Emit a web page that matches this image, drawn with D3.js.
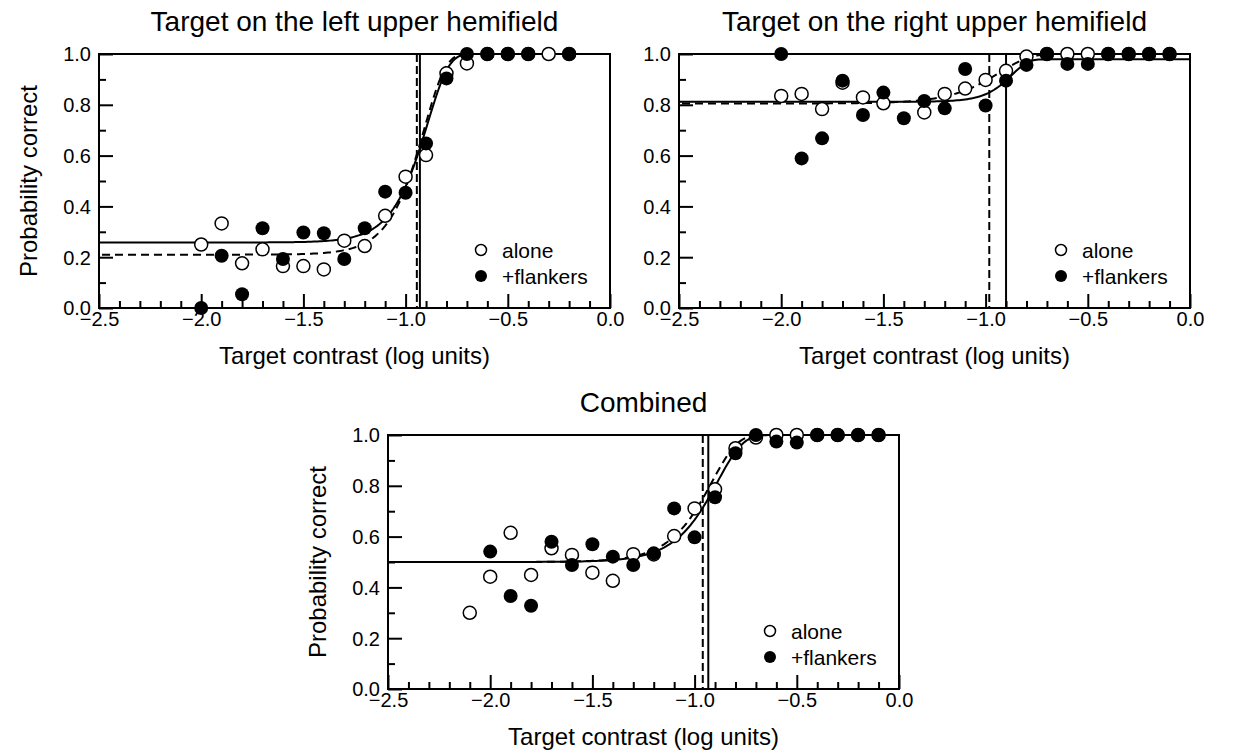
<!DOCTYPE html>
<html lang="en">
  <head>
    <meta charset="utf-8"/>
    <title>Probability correct vs target contrast</title>
    <script src="https://cdn.jsdelivr.net/npm/d3@7"></script>
    <style>
      body { margin: 0; background: #fff; }
      svg { display: block; font-family: "Liberation Sans", Arial, sans-serif; }
    </style>
  </head>
  <body>
    <div id="chart"></div>
    <script type="text/javascript">

      // data: [log contrast, probability correct]
      var leftAlone = [[-2.0,0.25],[-1.9,0.333],[-1.8,0.176],[-1.7,0.231],[-1.6,0.165],[-1.5,0.165],[-1.4,0.152],
        [-1.3,0.265],[-1.2,0.244],[-1.1,0.363],[-1.0,0.517],[-0.9,0.602],[-0.8,0.924],[-0.7,0.963],
        [-0.6,1],[-0.5,1],[-0.4,1],[-0.3,1],[-0.2,1]];
      var leftFlankers = [[-2.0,0.0],[-1.9,0.206],[-1.8,0.054],[-1.7,0.314],[-1.6,0.193],[-1.5,0.297],[-1.4,0.294],
        [-1.3,0.193],[-1.2,0.314],[-1.1,0.458],[-1.0,0.454],[-0.9,0.648],[-0.8,0.904],[-0.7,1],
        [-0.6,1],[-0.5,1],[-0.4,1],[-0.2,1]];

      var rightAlone = [[-2.0,0.835],[-1.9,0.843],[-1.8,0.783],[-1.7,0.887],[-1.6,0.829],[-1.5,0.806],[-1.3,0.77],
        [-1.2,0.843],[-1.1,0.864],[-1.0,0.898],[-0.9,0.934],[-0.8,0.99],[-0.7,1],[-0.6,1],[-0.5,1],
        [-0.4,1],[-0.3,1],[-0.2,1],[-0.1,1]];
      var rightFlankers = [[-2.0,1.0],[-1.9,0.589],[-1.8,0.668],[-1.7,0.895],[-1.6,0.76],[-1.5,0.848],[-1.4,0.747],
        [-1.3,0.815],[-1.2,0.786],[-1.1,0.941],[-1.0,0.797],[-0.9,0.895],[-0.8,0.957],[-0.7,1],
        [-0.6,0.961],[-0.5,0.961],[-0.4,1],[-0.3,1],[-0.2,1],[-0.1,1]];

      var combinedAlone = [[-2.1,0.3],[-2.0,0.442],[-1.9,0.615],[-1.8,0.449],[-1.7,0.554],[-1.6,0.528],[-1.5,0.458],
        [-1.4,0.426],[-1.3,0.531],[-1.2,0.53],[-1.1,0.602],[-1.0,0.711],[-0.9,0.786],[-0.8,0.948],
        [-0.7,0.99],[-0.6,1],[-0.5,1],[-0.4,1],[-0.3,1],[-0.2,1],[-0.1,1]];
      var combinedFlankers = [[-2.0,0.541],[-1.9,0.366],[-1.8,0.328],[-1.7,0.58],[-1.6,0.488],[-1.5,0.57],[-1.4,0.521],
        [-1.3,0.488],[-1.2,0.534],[-1.1,0.711],[-1.0,0.597],[-0.9,0.755],[-0.8,0.928],[-0.7,1],
        [-0.6,0.974],[-0.5,0.97],[-0.4,1],[-0.3,1],[-0.2,1],[-0.1,1]];

      // fitted psychometric functions: [guess rate, upper asymptote, threshold, slope]
      var leftFitSolid = [0.258, 1.0, -0.93, 4.2];
      var leftFitDashed = [0.21, 1.0, -0.945, 4.2];
      var rightFitSolid = [0.812, 0.979, -0.9, 5.5];
      var rightFitDashed = [0.805, 1.0, -0.982, 3.0];
      var combinedFitSolid = [0.5, 1.0, -0.933, 3.5];
      var combinedFitDashed = [0.5, 1.0, -0.96, 3.5];

      var xDomain = [-2.5, 0];
      var xMajorTicks = [-2.5, -2.0, -1.5, -1.0, -0.5, 0.0];
      var yMajorTicks = [0.0, 0.2, 0.4, 0.6, 0.8, 1.0];
      var legendLabels = ["alone", "+flankers"];

      var titles = ["Target on the left upper hemifield", "Target on the right upper hemifield", "Combined"];
      var xLabel = "Target contrast (log units)";
      var yLabel = "Probability correct";

      var w = 1234, h = 755;
      var plotW = 511, plotH = 254;

      var svg = d3.select("#chart")
        .append("svg")
        .attr("width", w)
        .attr("height", h)
      ;

      // Weibull in log units, F = 0.5 at the threshold
      function psychometric(p) {
        return function(x) {
          var f = 1 - Math.exp(-Math.LN2 * Math.pow(10, p[3] * (x - p[2])));
          return p[0] + (p[1] - p[0]) * f;
        };
      }

      function drawPanel(left, top, title, alone, flankers, fitSolid, fitDashed, showYLabel) {
        var x = d3.scaleLinear().domain(xDomain).range([0, plotW]);
        var y = d3.scaleLinear().domain([0, 1]).range([plotH, 0]);
        var g = svg.append("g").attr("transform", "translate(" + left + "," + top + ")");

        // minor ticks
        var xMinor = d3.range(-24, 0).map(function(i) { return i / 10; })
          .filter(function(v) { return Math.abs(v * 2 - Math.round(v * 2)) > 1e-6; });
        var yMinor = [0.1, 0.3, 0.5, 0.7, 0.9];
        g.append("g")
          .attr("transform", "translate(0," + plotH + ")")
          .call(d3.axisBottom(x).tickValues(xMinor).tickSize(-7).tickFormat(""));
        g.append("g")
          .call(d3.axisLeft(y).tickValues(yMinor).tickSize(-7).tickFormat(""));

        // major ticks with labels
        var xa = g.append("g")
          .attr("transform", "translate(0," + plotH + ")")
          .call(d3.axisBottom(x).tickValues(xMajorTicks).tickSize(-14).tickPadding(4).tickFormat(d3.format(".1f")));
        var ya = g.append("g")
          .call(d3.axisLeft(y).tickValues(yMajorTicks).tickSize(-14).tickPadding(8).tickFormat(d3.format(".1f")));

        g.selectAll(".domain").remove();
        g.selectAll(".tick line").attr("stroke", "#000").attr("stroke-width", 2);
        [xa, ya].forEach(function(a) {
          a.attr("font-family", null).attr("font-size", 20);
          a.selectAll("text").attr("fill", "#000");
        });
        ya.selectAll("text").attr("dy", "0.34em");

        // threshold lines
        g.append("line")
          .attr("x1", x(fitDashed[2])).attr("x2", x(fitDashed[2]))
          .attr("y1", 0).attr("y2", plotH)
          .attr("stroke", "#000").attr("stroke-width", 2).attr("stroke-dasharray", "8,4");
        g.append("line")
          .attr("x1", x(fitSolid[2])).attr("x2", x(fitSolid[2]))
          .attr("y1", 0).attr("y2", plotH)
          .attr("stroke", "#000").attr("stroke-width", 2);

        // fitted curves
        var xs = d3.range(0, 251).map(function(i) { return -2.5 + i * 0.01; });
        var line = d3.line().x(function(d) { return x(d[0]); }).y(function(d) { return y(d[1]); });
        var fs = psychometric(fitSolid), fd = psychometric(fitDashed);
        g.append("path")
          .attr("d", line(xs.map(function(v) { return [v, fd(v)]; })))
          .attr("fill", "none").attr("stroke", "#000").attr("stroke-width", 2)
          .attr("stroke-dasharray", "8,5").attr("stroke-dashoffset", -3);
        g.append("path")
          .attr("d", line(xs.map(function(v) { return [v, fs(v)]; })))
          .attr("fill", "none").attr("stroke", "#000").attr("stroke-width", 2);

        // frame
        g.append("rect")
          .attr("x", 0).attr("y", 0).attr("width", plotW).attr("height", plotH)
          .attr("fill", "none").attr("stroke", "#000").attr("stroke-width", 2);

        // data points, open first
        g.selectAll(".alone").data(alone).enter().append("circle")
          .attr("class", "alone")
          .attr("cx", function(d) { return x(d[0]); })
          .attr("cy", function(d) { return y(d[1]); })
          .attr("r", 6.5)
          .attr("fill", "#fff").attr("stroke", "#000").attr("stroke-width", 1.5);
        g.selectAll(".flankers").data(flankers).enter().append("circle")
          .attr("class", "flankers")
          .attr("cx", function(d) { return x(d[0]); })
          .attr("cy", function(d) { return y(d[1]); })
          .attr("r", 7)
          .attr("fill", "#000");

        // legend
        var lg = g.append("g").attr("transform", "translate(" + (plotW - 129) + "," + (plotH - 58) + ")");
        lg.append("circle").attr("cx", 0).attr("cy", 0).attr("r", 5.5)
          .attr("fill", "#fff").attr("stroke", "#000").attr("stroke-width", 1.5);
        lg.append("circle").attr("cx", 0).attr("cy", 26).attr("r", 6).attr("fill", "#000");
        lg.selectAll("text").data(legendLabels).enter().append("text")
          .attr("x", 21)
          .attr("y", function(d, i) { return i * 26; })
          .attr("dy", "0.36em")
          .attr("font-size", 21)
          .text(function(d) { return d; });

        // titles and axis labels
        g.append("text")
          .attr("x", plotW / 2).attr("y", -23)
          .attr("text-anchor", "middle")
          .attr("font-size", 28)
          .text(title);
        g.append("text")
          .attr("x", plotW / 2).attr("y", plotH + 56)
          .attr("text-anchor", "middle")
          .attr("font-size", 24)
          .text(xLabel);
        if (showYLabel) {
          g.append("text")
            .attr("transform", "translate(-62," + (plotH / 2) + ")rotate(-90)")
            .attr("text-anchor", "middle")
            .attr("font-size", 24)
            .text(yLabel);
        }
      }

      drawPanel(99, 54, titles[0], leftAlone, leftFlankers, leftFitSolid, leftFitDashed, true);
      drawPanel(679, 54, titles[1], rightAlone, rightFlankers, rightFitSolid, rightFitDashed, false);
      drawPanel(388, 435, titles[2], combinedAlone, combinedFlankers, combinedFitSolid, combinedFitDashed, true);
    </script>
  </body>
</html>
